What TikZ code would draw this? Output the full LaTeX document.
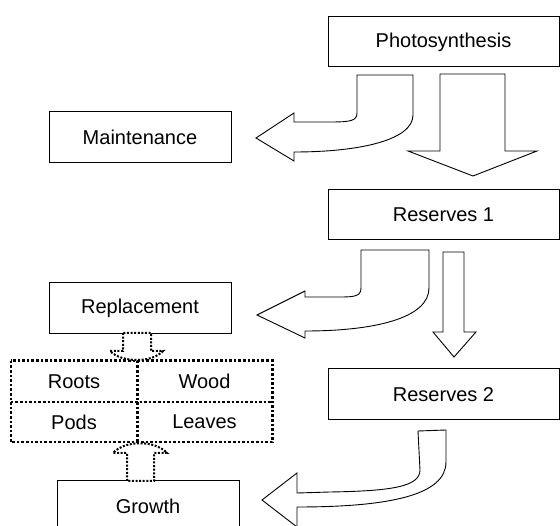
\documentclass[tikz,border=0pt]{standalone}
\usepackage{fontspec}
\setmainfont{Liberation Sans}
\tikzstyle{labeledBox}=[shape = rectangle, draw, line width = 1pt, inner sep = 0pt, font = \fontsize{20}{24}\selectfont]
\tikzstyle{cellBox}=[shape = rectangle, inner sep = 0pt, font = \fontsize{20}{24}\selectfont]

\begin{document}
\begin{tikzpicture}[x = 1pt, y = -1pt]
\tikzstyle{blockArrow}=[draw, fill = white, line width = 0.9pt, line join = miter]
\tikzstyle{dottedLine}=[draw, line width = 2.6pt, dash pattern = on 2.6pt off 2pt]
\tikzstyle{dottedArrow}=[draw, fill = white, line width = 2pt, dash pattern = on 2pt off 1.6pt]
\useasboundingbox[fill = white] (0,0) rectangle (560,526);
% boxes
\node[labeledBox, minimum width = 231pt, minimum height = 50pt] (photo) at (443.5,42) {Photosynthesis};
\node[labeledBox, minimum width = 182pt, minimum height = 51pt] (maint) at (140,137.5) {Maintenance};
\node[labeledBox, minimum width = 231pt, minimum height = 50pt] (res1) at (443.5,215) {Reserves 1};
\node[labeledBox, minimum width = 182pt, minimum height = 51pt] (repl) at (140,308) {Replacement};
\node[labeledBox, minimum width = 231pt, minimum height = 51pt] (res2) at (443.5,394.5) {Reserves 2};
\node[labeledBox, minimum width = 182pt, minimum height = 50pt] (growth) at (148,506) {Growth};
% organs
\node[cellBox, minimum width = 126pt, minimum height = 41pt] (roots) at (74,381.5) {Roots};
\node[cellBox, minimum width = 135pt, minimum height = 41pt] (wood) at (204.5,381.5) {Wood};
\node[cellBox, minimum width = 126pt, minimum height = 40pt] (pods) at (74,422) {Pods};
\node[cellBox, minimum width = 135pt, minimum height = 40pt] (leaves) at (204.5,422) {Leaves};
\draw[dottedLine] (roots.north west) rectangle (leaves.south east);
\draw[dottedLine] (roots.south west) -- (wood.south east);
\draw[dottedLine] (roots.north east) -- (pods.south east);
% block arrows
\draw[blockArrow] (357,75) -- (357,113) .. controls (357,121) and (350,122) .. (330,122) -- (294,122) -- (294,113) -- (256,138) -- (294,161) -- (294,152) .. controls (360,152) and (413,140) .. (413,115) -- (413,75) -- cycle;
\draw[blockArrow] (440,74) -- (440,151) -- (408,151) -- (473,176) -- (537,151) -- (505,151) -- (505,74) -- cycle;
\draw[blockArrow] (361,250) -- (361,288) .. controls (361,296) and (355,297) .. (340,297) -- (305,297) -- (305,291) -- (257,315) -- (305,338) -- (305,331) .. controls (375,331) and (429,318) .. (429,288) -- (429,250) -- cycle;
\draw[blockArrow] (443,252) -- (443,332) -- (433,332) -- (454,357) -- (476,332) -- (464,332) -- (464,252) -- cycle;
\draw[blockArrow] (418,431) -- (420,470) .. controls (420,487) and (390,491) .. (330,492) -- (297,493) -- (297,473) -- (262,500) -- (297,527) -- (297,507) .. controls (390,507) and (446,495) .. (446,462) -- (446,430) -- cycle;
% dotted arrows
\draw[dottedArrow] (123,333) -- (123,351) -- (110,351) .. controls (122,363) and (152,363) .. (163,351) -- (151,351) -- (151,333) -- cycle;
\draw[dottedArrow] (127,481) -- (127,453) -- (113,453) .. controls (125,440) and (155,440) .. (167,453) -- (154,453) -- (154,481) -- cycle;
\end{tikzpicture}
\end{document}
